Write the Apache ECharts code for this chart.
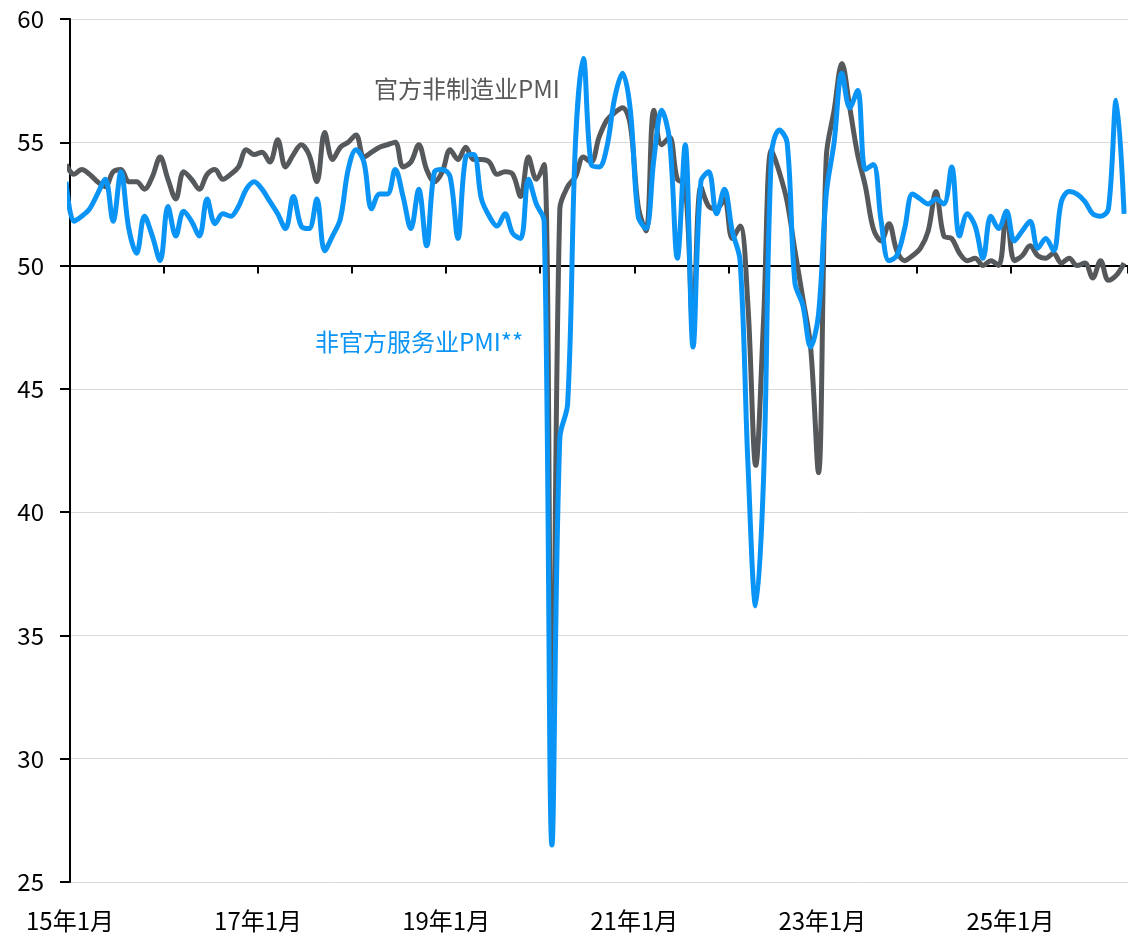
<!DOCTYPE html>
<html>
<head>
<meta charset="utf-8">
<script src="https://cdn.jsdelivr.net/npm/echarts@6/dist/echarts.min.js"></script>
<style>
  html, body { margin: 0; padding: 0; background: #fff; }
  #chart { width: 1128px; height: 936px; }
</style>
</head>
<body>
<div id="chart"></div>
<script>
// months counted from 2015-01 (= 0); first value is 2014-12, last is 2026-03
const firstMonth = -1
// 官方非制造业PMI
const officialNonMfg = [
  54.1,
  53.7, 53.9, 53.7, 53.4, 53.2, 53.8, 53.9, 53.4, 53.4, 53.1, 53.6, 54.4,
  53.5, 52.7, 53.8, 53.5, 53.1, 53.7, 53.9, 53.5, 53.7, 54.0, 54.7, 54.5,
  54.6, 54.2, 55.1, 54.0, 54.5, 54.9, 54.5, 53.4, 55.4, 54.3, 54.8, 55.0,
  55.3, 54.4, 54.6, 54.8, 54.9, 55.0, 54.0, 54.2, 54.9, 53.9, 53.4, 53.8,
  54.7, 54.3, 54.8, 54.3, 54.3, 54.2, 53.7, 53.8, 53.7, 52.8, 54.4, 53.5,
  54.1, 29.6, 52.3, 53.2, 53.6, 54.4, 54.2, 55.2, 55.9, 56.2, 56.4, 55.7,
  52.4, 51.4, 56.3, 54.9, 55.2, 53.5, 53.3, 47.5, 53.2, 52.4, 52.3, 52.7,
  51.1, 51.6, 48.4, 41.9, 47.8, 54.7, 53.8, 52.6, 50.6, 48.7, 46.7, 41.6,
  54.4, 56.3, 58.2, 56.4, 54.5, 53.2, 51.5, 51.0, 51.7, 50.6, 50.2, 50.4,
  50.7, 51.4, 53.0, 51.2, 51.1, 50.5, 50.2, 50.3, 50.0, 50.2, 50.0, 52.2,
  50.2, 50.4, 50.8, 50.4, 50.3, 50.5, 50.1, 50.3, 50.0, 50.1, 49.5, 50.2,
  49.4, 49.6, 50.1
]
// 非官方服务业PMI**
const unofficialServices = [
  53.4,
  51.8, 52.0, 52.3, 52.9, 53.5, 51.8, 53.8, 51.5, 50.5, 52.0, 51.2, 50.2,
  52.4, 51.2, 52.2, 51.8, 51.2, 52.7, 51.7, 52.1, 52.0, 52.4, 53.1, 53.4,
  53.1, 52.6, 52.1, 51.5, 52.8, 51.6, 51.5, 52.7, 50.6, 51.2, 51.9, 53.9,
  54.7, 54.2, 52.3, 52.9, 52.9, 53.9, 52.8, 51.5, 53.1, 50.8, 53.8, 53.9,
  53.6, 51.1, 54.4, 54.5, 52.7, 52.0, 51.6, 52.1, 51.3, 51.1, 53.5, 52.5,
  51.8, 26.5, 43.0, 44.4, 55.0, 58.4, 54.1, 54.0, 54.8, 56.8, 57.8, 56.3,
  52.0, 51.5, 54.3, 56.3, 55.1, 50.3, 54.9, 46.7, 53.4, 53.8, 52.1, 53.1,
  51.4, 50.2, 42.0, 36.2, 41.4, 54.5, 55.5, 55.0, 49.3, 48.4, 46.7, 48.0,
  52.9, 55.0, 57.8, 56.4, 57.1, 53.9, 54.1, 51.8, 50.2, 50.4, 51.5, 52.9,
  52.7, 52.5, 52.7, 52.5, 54.0, 51.2, 52.1, 51.6, 50.3, 52.0, 51.5, 52.2,
  51.0, 51.4, 51.8, 50.7, 51.1, 50.6, 52.6, 53.0, 52.9, 52.6, 52.1, 52.0,
  52.3, 56.7, 52.1
]
const xTickLabels = ['15年1月', '17年1月', '19年1月', '21年1月', '23年1月', '25年1月']
const xLabelStep = 24
const xTickStep = 12
const xMax = 135
const yMin = 25
const yMax = 60
const yStep = 5
const axisCross = 50

const gridTop = 19
const gridBottom = 54
const gridH = 936 - gridTop - gridBottom

// each monthly value sits in the middle of its month
const toPoints = (values) => values.map((v, i) => [firstMonth + i + 0.5, v])

const myChart = echarts.init(document.getElementById('chart'))
myChart.setOption({
  animation: false,
  textStyle: { fontFamily: 'Noto Sans CJK SC' },
  grid: [
    { left: 70, right: 0, top: gridTop, bottom: gridBottom },
    // upper part only, so its x axis lies on 50
    { left: 70, right: 0, top: gridTop, height: gridH * (yMax - axisCross) / (yMax - yMin) }
  ],
  xAxis: [
    {
      type: 'value',
      gridIndex: 0,
      min: 0,
      max: xMax,
      interval: xLabelStep,
      axisLine: { show: false },
      axisTick: { show: false },
      splitLine: { show: false },
      axisLabel: {
        fontSize: 24,
        color: '#000',
        margin: 27,
        showMaxLabel: false,
        formatter: (v) => (v % xLabelStep === 0 ? xTickLabels[v / xLabelStep] || '' : '')
      }
    },
    {
      type: 'value',
      gridIndex: 1,
      min: 0,
      max: xMax,
      interval: xTickStep,
      axisLine: { show: true, lineStyle: { color: '#000', width: 2 } },
      axisTick: { show: true, length: 8, lineStyle: { color: '#000', width: 2 } },
      axisLabel: { show: false },
      splitLine: { show: false }
    }
  ],
  yAxis: [
    {
      type: 'value',
      gridIndex: 0,
      min: yMin,
      max: yMax,
      interval: yStep,
      axisLine: { show: true, lineStyle: { color: '#000', width: 2 } },
      axisTick: { show: true, length: 10, lineStyle: { color: '#000', width: 2 } },
      axisLabel: { fontSize: 24, color: '#000', margin: 26 },
      splitLine: { lineStyle: { color: '#D9D9D9', width: 1 } }
    },
    {
      type: 'value',
      gridIndex: 1,
      min: axisCross,
      max: yMax,
      show: false
    }
  ],
  series: [
    {
      name: '官方非制造业PMI',
      type: 'line',
      xAxisIndex: 0,
      yAxisIndex: 0,
      data: toPoints(officialNonMfg),
      smooth: 0.35,
      showSymbol: false,
      lineStyle: { color: '#55595C', width: 5 },
      itemStyle: { color: '#55595C' },
      z: 2
    },
    {
      name: '非官方服务业PMI**',
      type: 'line',
      xAxisIndex: 0,
      yAxisIndex: 0,
      data: toPoints(unofficialServices),
      smooth: 0.35,
      showSymbol: false,
      lineStyle: { color: '#0A94F6', width: 5 },
      itemStyle: { color: '#0A94F6' },
      z: 3
    }
  ],
  graphic: [
    {
      type: 'text',
      left: 374,
      top: 77,
      style: { text: '官方非制造业PMI', fill: '#595959', fontSize: 24, fontFamily: 'Noto Sans CJK SC' }
    },
    {
      type: 'text',
      left: 315,
      top: 330,
      style: { text: '非官方服务业PMI**', fill: '#0A94F6', fontSize: 24, fontFamily: 'Noto Sans CJK SC' }
    }
  ]
})
</script>
</body>
</html>
